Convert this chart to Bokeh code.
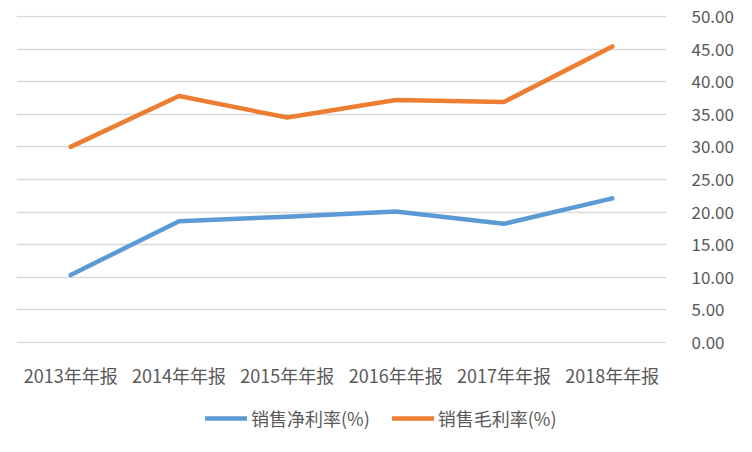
from bokeh.plotting import figure
from bokeh.layouts import column
from bokeh.models import (FactorRange, Range1d, FixedTicker, PrintfTickFormatter,
                          Legend, LegendItem)
from bokeh.embed import file_html
from bokeh.resources import INLINE

categories = ["2013年年报", "2014年年报", "2015年年报", "2016年年报", "2017年年报", "2018年年报"]
net_margin = [10.35, 18.6, 19.3, 20.1, 18.2, 22.1]
gross_margin = [30.0, 37.8, 34.5, 37.2, 36.9, 45.4]
y_ticks = [0, 5, 10, 15, 20, 25, 30, 35, 40, 45, 50]
series_names = ["销售净利率(%)", "销售毛利率(%)"]

FONT = "Noto Sans CJK SC"
TEXT = "#595959"
BLUE = "#5B9BD5"
ORANGE = "#ED7D31"
GRID = "#D9D9D9"

p = figure(width=736, height=390, x_range=FactorRange(*categories, range_padding=0),
           y_range=Range1d(-0.15, 50.15), y_axis_location="right",
           output_backend="svg", toolbar_location=None,
           min_border_left=16, min_border_right=68, min_border_top=15, min_border_bottom=45)
p.outline_line_color = None
p.background_fill_color = "white"
p.border_fill_color = "white"

r1 = p.line(categories, net_margin, line_color=BLUE, line_width=4.5, line_cap="round", line_join="round")
r2 = p.line(categories, gross_margin, line_color=ORANGE, line_width=4.5, line_cap="round", line_join="round")

p.xgrid.grid_line_color = None
p.ygrid.grid_line_color = GRID
p.ygrid.grid_line_width = 1.3

ya = p.yaxis[0]
ya.ticker = FixedTicker(ticks=y_ticks)
ya.formatter = PrintfTickFormatter(format="%.2f")
ya.axis_line_color = None
ya.major_tick_line_color = None
ya.minor_tick_line_color = None
ya.major_label_standoff = 19
ya.major_label_text_font = FONT
ya.major_label_text_font_size = "17px"
ya.major_label_text_color = TEXT

xa = p.xaxis[0]
xa.axis_line_color = None
xa.major_tick_line_color = None
xa.minor_tick_line_color = None
xa.major_label_standoff = 12
xa.major_label_text_font = FONT
xa.major_label_text_font_size = "18px"
xa.major_label_text_color = TEXT

# legend strip below the chart (series drawn out of view, only their legend glyphs show)
lg = figure(width=736, height=46, output_backend="svg", toolbar_location=None,
            x_range=FactorRange(*categories), y_range=Range1d(1000, 1001),
            min_border=0, min_border_left=0, min_border_right=0,
            min_border_top=0, min_border_bottom=0)
lg.axis.visible = False
lg.grid.visible = False
lg.outline_line_color = None
lg.border_fill_color = "white"
lg.background_fill_color = "white"
l1 = lg.line(categories, net_margin, line_color=BLUE, line_width=4.5, line_cap="round")
l2 = lg.line(categories, gross_margin, line_color=ORANGE, line_width=4.5, line_cap="round")

legend = Legend(items=[LegendItem(label=series_names[0], renderers=[l1]),
                       LegendItem(label=series_names[1], renderers=[l2])],
                orientation="horizontal", location=(189, 5),
                label_text_font=FONT, label_text_font_size="18px", label_text_color=TEXT,
                glyph_width=42, glyph_height=20, label_standoff=4, spacing=22,
                padding=4, margin=0, border_line_color=None, background_fill_alpha=0)
lg.add_layout(legend, "center")

layout = column(p, lg, spacing=0)
open("out.html", "w").write(file_html(layout, INLINE))
